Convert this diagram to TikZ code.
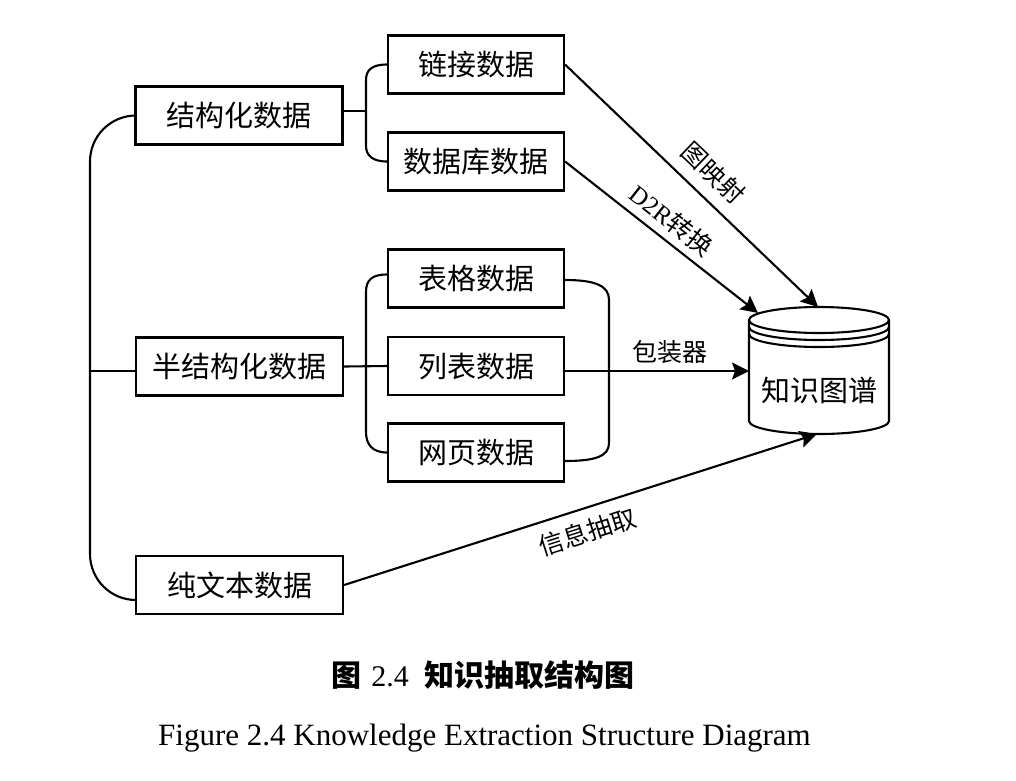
\documentclass[tikz,border=0pt]{standalone}
\usepackage{fontspec}
\setmainfont{Liberation Serif}
\newfontfamily\cjk{Noto Sans CJK SC}
\usetikzlibrary{arrows.meta}
\begin{document}
\begin{tikzpicture}[x=1pt,y=-1pt,
  conn/.style={line width=2.1pt},
  arr/.style={line width=2.1pt,-{Stealth[length=17pt,width=17pt,inset=3pt]}},
  boxbase/.style={draw,line width=2.1pt,inner sep=0pt,minimum height=58pt,
    font=\cjk\fontsize{29}{34}\selectfont,text height=25.5pt,text depth=3.5pt},
  sbox/.style={boxbase,minimum width=207pt},
  rbox/.style={boxbase,minimum width=176pt},
  lab/.style={inner sep=0pt,font=\fontsize{25}{30}\selectfont,text height=20pt,text depth=2pt},
  kgtext/.style={inner sep=0pt,font=\cjk\fontsize{29}{34}\selectfont,text height=25.5pt,text depth=3.5pt}]
\useasboundingbox (0,0) rectangle (1016,780);

% left column
\node[sbox] (s1) at (239,115.5) {结构化数据};
\node[sbox] (s2) at (239.5,366.5) {半结构化数据};
\node[sbox] (s4) at (239.5,585) {纯文本数据};

% right column
\node[rbox] (l1) at (476,64.5) {链接数据};
\node[rbox] (l2) at (476,161.5) {数据库数据};
\node[rbox] (t1) at (476,278.5) {表格数据};
\node[rbox] (t2) at (476,366) {列表数据};
\node[rbox] (t3) at (476,452.5) {网页数据};

% knowledge graph cylinder
\draw[conn] (819,320) ellipse (70pt and 13pt);
\draw[conn] (749,327) arc (180:360:70pt and 13pt);
\draw[conn] (749,334) arc (180:360:70pt and 13pt);
\draw[conn] (749,320) -- (749,421) arc (180:360:70pt and 13pt) -- (889,320);
\node[kgtext] (kg) at (819,390) {知识图谱};
\coordinate (kgtop) at (818,307);
\coordinate (kgd2r) at (758,313);
\coordinate (kgleft) at (749,371);
\coordinate (kgbot) at (817,434);

% left bus
\coordinate (bus2) at (90,371);
\draw[conn,rounded corners=46pt] (s1.west) -- (90,115.5) -- (90,600) -- ([yshift=-15pt]s4.west);
\draw[conn] (bus2) -- (s2.west |- bus2);

% structured bracket
\draw[conn] ([yshift=4.5pt]s1.east) -- (366,111);
\draw[conn] (l1.west) .. controls (372,64.5) and (366,70) .. (366,80) -- (366,146)
  .. controls (366,155) and (372,161.5) .. (l2.west);

% semi-structured brackets
\draw[conn] (s2.east) -- (t2.west);
\draw[conn] ([yshift=4pt]t1.west) .. controls (372,274.5) and (366,280) .. (366,292) -- (366,432)
  .. controls (366,444) and (372,452.5) .. (t3.west);
\draw[conn] ([yshift=-1.5pt]t1.east) .. controls (596,280) and (609,286) .. (609,300) -- (609,443)
  .. controls (609,456) and (596,461) .. ([yshift=-8.5pt]t3.east);

% arrows
\draw[arr] (l1.east) -- node[lab,sloped,above=12pt,pos=0.52] (lb1) {\cjk 图映射} (kgtop);
\draw[arr] (l2.east) -- node[lab,sloped,above=7pt,pos=0.49] (lb2) {D2R{\cjk 转换}} (kgd2r);
\draw[arr] (t2.east |- kgleft) -- node[lab,above=6pt,pos=0.57] (lb3) {\cjk 包装器} (kgleft);
\draw[arr] (s4.east) -- node[lab,sloped,below=12pt,pos=0.5] (lb4) {\cjk 信息抽取} (kgbot);

% captions
\node[inner sep=0pt,font=\fontsize{30}{36}\selectfont,text height=26.4pt,text depth=3.6pt] (cap1) at (483,675)
  {{\cjk\bfseries 图}\hspace{10pt}2.4\hspace{16pt}{\cjk\bfseries 知识抽取结构图}};
\node[inner sep=0pt,anchor=base,font=\fontsize{31}{37}\selectfont] (cap2) at (484.5,745)
  {Figure 2.4 Knowledge Extraction Structure Diagram};
\end{tikzpicture}
\end{document}
